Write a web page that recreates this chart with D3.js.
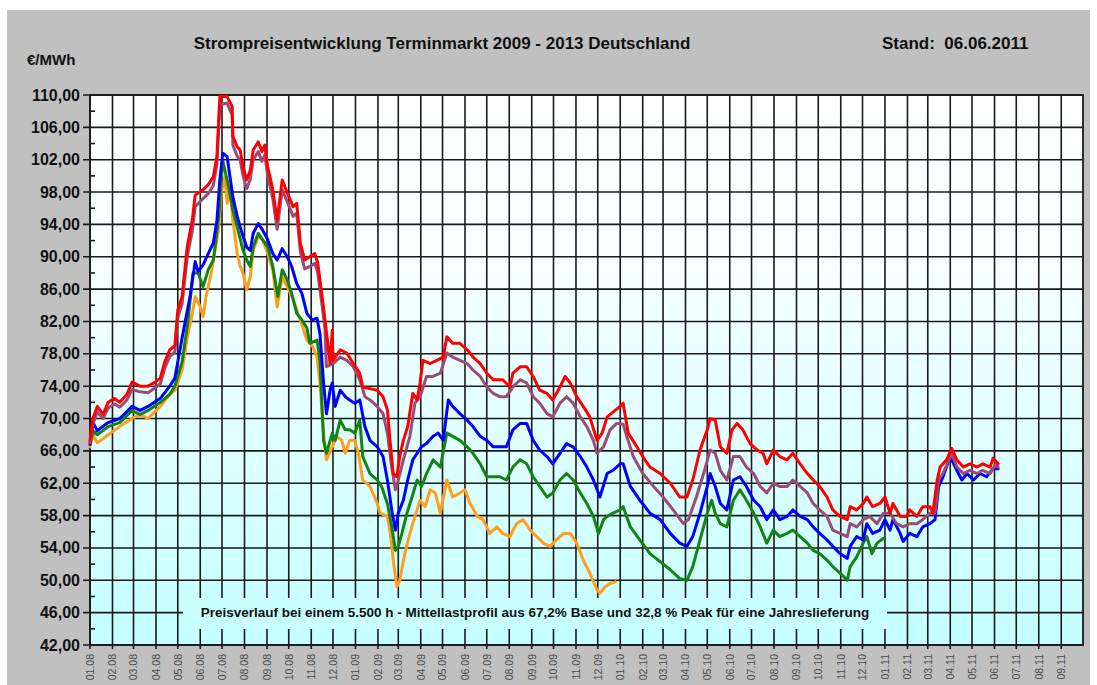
<!DOCTYPE html>
<html>
<head>
<meta charset="utf-8">
<script src="https://cdn.jsdelivr.net/npm/d3@7"></script>
<style>
  html, body { margin: 0; padding: 0; background: #fff; }
  svg { display: block; font-family: "Liberation Sans", Arial, sans-serif; }
</style>
</head>
<body>
<svg id="chart" width="1097" height="685"></svg>
<script>
// price curves (EUR/MWh), [date, value]
const orangeSeries = [
  ["2008-01-01",66.5],["2008-01-05",68.0],["2008-01-11",67.0],["2008-01-19",67.5],["2008-01-26",68.0],["2008-02-11",69.0],["2008-02-28",70.0],["2008-03-10",70.5],["2008-03-21",70.0],["2008-04-07",71.5],["2008-04-20",73.0],["2008-04-27",73.5],["2008-05-07",76.0],["2008-05-14",80.0],["2008-05-21",83.0],["2008-05-25",85.1],["2008-06-01",83.8],["2008-06-05",82.6],["2008-06-09",85.1],["2008-06-17",88.4],["2008-06-26",93.3],["2008-06-30",97.9],["2008-07-05",99.9],["2008-07-08",96.6],["2008-07-12",98.3],["2008-07-16",94.5],["2008-07-22",90.4],["2008-07-26",88.8],["2008-07-30",88.0],["2008-08-04",85.9],["2008-08-09",87.5],["2008-08-13",90.8],["2008-08-20",92.5],["2008-08-26",92.1],["2008-09-02",90.4],["2008-09-09",88.4],["2008-09-15",83.8],["2008-09-22",87.5],["2008-09-29",86.3],["2008-10-07",84.7],["2008-10-17",82.2],["2008-10-26",79.7],["2008-11-03",78.9],["2008-11-09",77.6],["2008-11-13",74.4],["2008-11-18",68.2],["2008-11-22",64.9],["2008-11-30",66.5],["2008-12-06",67.8],["2008-12-13",67.3],["2008-12-18",65.7],["2008-12-24",67.3],["2008-12-31",67.3],["2009-01-05",65.7],["2009-01-11",62.4],["2009-01-21",61.6],["2009-01-31",59.5],["2009-02-04",58.3],["2009-02-14",57.9],["2009-02-18",55.8],["2009-02-22",52.5],["2009-02-27",49.2],["2009-03-03",50.0],["2009-03-10",53.3],["2009-03-17",55.8],["2009-03-24",57.9],["2009-03-31",59.9],["2009-04-07",59.1],["2009-04-14",61.2],["2009-04-21",60.8],["2009-04-28",58.3],["2009-05-07",62.4],["2009-05-15",60.3],["2009-05-25",60.8],["2009-06-01",61.2],["2009-06-08",59.5],["2009-06-18",57.9],["2009-06-26",57.5],["2009-07-05",55.8],["2009-07-15",56.6],["2009-07-23",55.8],["2009-08-02",55.4],["2009-08-11",57.0],["2009-08-20",57.5],["2009-08-30",56.2],["2009-09-08",55.4],["2009-09-17",54.6],["2009-09-26",54.2],["2009-10-05",55.0],["2009-10-15",55.8],["2009-10-24",55.8],["2009-11-02",54.6],["2009-11-11",52.5],["2009-11-20",50.9],["2009-11-30",48.8],["2009-12-04",48.4],["2009-12-11",49.2],["2009-12-18",49.6],["2009-12-25",49.8]
];

const greenSeries = [
  ["2008-01-01",66.8],["2008-01-05",68.5],["2008-01-11",68.0],["2008-01-26",69.0],["2008-02-11",69.5],["2008-02-28",71.0],["2008-03-10",70.5],["2008-03-21",71.0],["2008-04-07",72.0],["2008-04-20",73.0],["2008-04-27",74.0],["2008-05-07",77.0],["2008-05-15",82.0],["2008-05-22",88.0],["2008-05-29",88.0],["2008-06-05",86.3],["2008-06-12",88.4],["2008-06-19",89.6],["2008-06-26",94.5],["2008-07-02",101.9],["2008-07-09",99.1],["2008-07-16",95.8],["2008-07-23",93.3],["2008-07-30",90.8],["2008-08-04",89.6],["2008-08-09",88.8],["2008-08-13",91.2],["2008-08-20",92.9],["2008-08-26",92.1],["2008-09-02",91.2],["2008-09-09",88.8],["2008-09-16",85.1],["2008-09-22",88.4],["2008-09-29",87.1],["2008-10-05",85.5],["2008-10-12",83.0],["2008-10-19",82.2],["2008-10-26",81.2],["2008-10-30",79.3],["2008-11-09",79.7],["2008-11-13",77.2],["2008-11-18",67.3],["2008-11-22",65.7],["2008-11-30",68.2],["2008-12-04",67.3],["2008-12-11",69.8],["2008-12-18",68.6],["2008-12-24",68.6],["2008-12-31",68.2],["2009-01-07",69.8],["2009-01-11",65.3],["2009-01-21",63.2],["2009-01-31",62.4],["2009-02-06",61.6],["2009-02-14",59.5],["2009-02-20",56.6],["2009-02-25",53.7],["2009-03-01",54.2],["2009-03-06",55.8],["2009-03-13",58.3],["2009-03-20",60.3],["2009-03-27",62.4],["2009-04-02",61.6],["2009-04-09",63.2],["2009-04-18",64.9],["2009-04-28",64.0],["2009-05-07",68.2],["2009-05-15",67.8],["2009-05-25",67.3],["2009-06-04",66.5],["2009-06-12",65.7],["2009-06-22",64.4],["2009-07-01",62.8],["2009-07-10",62.8],["2009-07-19",62.8],["2009-07-28",62.4],["2009-08-06",64.0],["2009-08-16",64.9],["2009-08-25",64.4],["2009-09-03",62.8],["2009-09-12",61.6],["2009-09-22",60.3],["2009-09-30",60.8],["2009-10-10",62.4],["2009-10-19",63.2],["2009-10-28",62.4],["2009-11-07",60.8],["2009-11-16",59.5],["2009-11-25",57.9],["2009-12-02",55.8],["2009-12-09",57.5],["2009-12-14",57.9],["2009-12-22",58.3],["2010-01-01",58.7],["2010-01-05",59.1],["2010-01-15",56.6],["2010-01-28",55.0],["2010-02-11",53.3],["2010-02-25",52.3],["2010-03-11",51.3],["2010-03-24",50.2],["2010-04-03",50.0],["2010-04-11",51.7],["2010-04-21",55.0],["2010-05-01",58.3],["2010-05-07",59.9],["2010-05-12",58.3],["2010-05-19",57.0],["2010-05-28",56.6],["2010-06-06",59.9],["2010-06-15",61.2],["2010-06-24",59.9],["2010-07-04",58.3],["2010-07-13",56.6],["2010-07-22",54.6],["2010-07-31",56.2],["2010-08-09",55.4],["2010-08-19",55.8],["2010-08-27",56.2],["2010-09-06",55.4],["2010-09-16",54.6],["2010-09-24",53.7],["2010-10-03",53.3],["2010-10-13",52.5],["2010-10-21",51.7],["2010-10-31",50.9],["2010-11-10",50.0],["2010-11-14",51.7],["2010-11-23",52.9],["2010-12-02",54.6],["2010-12-07",55.4],["2010-12-14",53.3],["2010-12-21",54.6],["2010-12-30",55.2]
];

const blueSeries = [
  ["2008-01-01",66.8],["2008-01-05",69.5],["2008-01-11",68.5],["2008-01-26",69.5],["2008-02-11",70.0],["2008-02-28",71.5],["2008-03-10",71.0],["2008-03-21",71.5],["2008-04-07",72.5],["2008-04-20",74.0],["2008-04-27",75.0],["2008-05-01",77.0],["2008-05-07",80.0],["2008-05-18",85.1],["2008-05-25",89.4],["2008-05-29",88.2],["2008-06-05",89.0],["2008-06-12",90.4],["2008-06-19",91.7],["2008-06-24",94.5],["2008-06-28",99.5],["2008-07-02",102.8],["2008-07-08",102.4],["2008-07-12",99.9],["2008-07-16",97.4],["2008-07-22",95.0],["2008-07-26",93.7],["2008-07-30",92.5],["2008-08-04",91.2],["2008-08-09",90.8],["2008-08-13",92.9],["2008-08-20",94.1],["2008-08-26",93.3],["2008-09-02",92.1],["2008-09-09",90.4],["2008-09-15",89.6],["2008-09-22",91.0],["2008-09-29",90.0],["2008-10-05",88.8],["2008-10-12",86.7],["2008-10-19",85.5],["2008-10-26",83.0],["2008-11-02",82.2],["2008-11-09",82.4],["2008-11-13",80.5],["2008-11-18",74.4],["2008-11-22",70.6],["2008-11-27",73.5],["2008-11-30",74.4],["2008-12-04",71.5],["2008-12-11",73.5],["2008-12-18",72.7],["2008-12-24",72.3],["2008-12-31",71.9],["2009-01-07",72.3],["2009-01-14",69.0],["2009-01-21",67.3],["2009-01-31",66.5],["2009-02-08",65.3],["2009-02-14",62.4],["2009-02-20",58.7],["2009-02-25",56.2],["2009-03-01",58.3],["2009-03-08",59.9],["2009-03-14",62.4],["2009-03-21",64.9],["2009-03-27",65.7],["2009-04-02",66.5],["2009-04-09",66.9],["2009-04-18",67.8],["2009-04-25",68.2],["2009-05-02",67.3],["2009-05-09",72.3],["2009-05-15",71.5],["2009-05-25",70.6],["2009-06-04",69.8],["2009-06-12",69.0],["2009-06-22",67.8],["2009-07-01",67.3],["2009-07-10",66.5],["2009-07-19",66.5],["2009-07-28",66.5],["2009-08-06",68.6],["2009-08-16",69.4],["2009-08-25",69.4],["2009-09-03",67.3],["2009-09-12",66.1],["2009-09-22",65.3],["2009-09-30",64.4],["2009-10-10",65.7],["2009-10-19",66.9],["2009-10-28",66.5],["2009-11-07",65.3],["2009-11-16",64.0],["2009-11-25",62.4],["2009-12-04",60.3],["2009-12-14",63.2],["2009-12-22",63.6],["2010-01-01",64.4],["2010-01-05",64.4],["2010-01-15",61.6],["2010-01-28",59.9],["2010-02-11",58.3],["2010-02-25",57.5],["2010-03-11",55.8],["2010-03-24",54.6],["2010-04-03",54.2],["2010-04-11",55.4],["2010-04-21",58.3],["2010-05-01",61.6],["2010-05-05",63.2],["2010-05-12",61.6],["2010-05-19",59.5],["2010-05-28",58.7],["2010-06-06",62.4],["2010-06-15",62.8],["2010-06-24",61.6],["2010-07-04",59.9],["2010-07-13",59.1],["2010-07-22",57.5],["2010-07-31",58.7],["2010-08-09",57.5],["2010-08-19",57.9],["2010-08-27",58.7],["2010-09-06",57.9],["2010-09-16",57.5],["2010-09-24",56.6],["2010-10-03",55.8],["2010-10-13",55.0],["2010-10-21",54.2],["2010-10-31",53.3],["2010-11-10",52.7],["2010-11-14",54.2],["2010-11-23",55.4],["2010-12-02",55.0],["2010-12-07",57.0],["2010-12-15",55.8],["2010-12-25",56.2],["2011-01-01",57.5],["2011-01-08",56.2],["2011-01-12",57.5],["2011-01-22",55.8],["2011-01-26",54.8],["2011-02-04",55.8],["2011-02-14",55.4],["2011-02-22",56.6],["2011-03-04",57.0],["2011-03-11",57.5],["2011-03-16",61.6],["2011-03-22",62.8],["2011-04-01",65.3],["2011-04-10",63.6],["2011-04-17",62.4],["2011-04-24",63.2],["2011-05-03",62.4],["2011-05-12",63.2],["2011-05-21",62.8],["2011-05-30",63.8],["2011-06-06",63.8]
];

const purpleSeries = [
  ["2008-01-01",67.0],["2008-01-05",69.3],["2008-01-11",70.8],["2008-01-19",70.0],["2008-01-26",71.3],["2008-02-04",71.8],["2008-02-11",71.4],["2008-02-21",72.3],["2008-02-28",73.6],["2008-03-10",73.3],["2008-03-21",73.2],["2008-03-31",73.8],["2008-04-07",74.3],["2008-04-13",76.2],["2008-04-20",77.7],["2008-04-27",78.2],["2008-05-01",82.5],["2008-05-07",84.2],["2008-05-14",90.0],["2008-05-21",93.2],["2008-05-25",96.2],["2008-06-05",97.2],["2008-06-12",97.8],["2008-06-19",98.8],["2008-06-24",101.5],["2008-06-28",108.8],["2008-07-08",109.0],["2008-07-15",107.5],["2008-07-16",103.8],["2008-07-22",102.4],["2008-07-26",102.0],["2008-07-30",100.0],["2008-08-04",98.4],["2008-08-09",99.6],["2008-08-13",102.0],["2008-08-20",103.0],["2008-08-25",101.8],["2008-08-29",102.6],["2008-09-02",100.0],["2008-09-09",97.2],["2008-09-15",93.4],["2008-09-22",98.3],["2008-09-29",96.8],["2008-10-07",95.0],["2008-10-12",95.4],["2008-10-17",90.6],["2008-10-23",88.5],["2008-10-30",88.8],["2008-11-06",89.2],["2008-11-10",88.0],["2008-11-16",84.0],["2008-11-20",81.0],["2008-11-22",76.4],["2008-12-01",76.8],["2008-12-11",77.6],["2008-12-20",77.2],["2008-12-29",76.4],["2009-01-07",74.8],["2009-01-14",72.7],["2009-01-21",72.3],["2009-01-31",71.5],["2009-02-08",70.6],["2009-02-14",68.2],["2009-02-20",64.0],["2009-02-25",61.2],["2009-03-01",62.4],["2009-03-08",64.9],["2009-03-17",67.8],["2009-03-24",71.9],["2009-03-31",72.7],["2009-04-09",75.2],["2009-04-18",75.2],["2009-04-28",75.6],["2009-05-07",78.1],["2009-05-15",77.6],["2009-05-25",77.2],["2009-06-04",76.8],["2009-06-12",76.0],["2009-06-22",75.2],["2009-07-01",73.9],["2009-07-10",73.1],["2009-07-19",72.7],["2009-07-28",72.7],["2009-08-06",73.9],["2009-08-16",74.8],["2009-08-25",74.4],["2009-09-03",72.7],["2009-09-12",71.9],["2009-09-22",70.6],["2009-09-30",70.2],["2009-10-10",71.9],["2009-10-19",72.7],["2009-10-28",71.9],["2009-11-07",70.2],["2009-11-16",69.0],["2009-11-25",67.3],["2009-11-30",65.7],["2009-12-09",66.5],["2009-12-18",68.6],["2009-12-27",69.4],["2010-01-05",69.3],["2010-01-10",67.8],["2010-01-19",65.3],["2010-02-01",63.2],["2010-02-16",61.6],["2010-03-01",60.3],["2010-03-15",58.7],["2010-03-29",57.0],["2010-04-05",57.5],["2010-04-16",60.3],["2010-04-26",63.2],["2010-05-05",66.1],["2010-05-12",65.7],["2010-05-19",63.6],["2010-05-28",62.4],["2010-06-06",65.3],["2010-06-15",65.3],["2010-06-24",64.0],["2010-07-04",63.2],["2010-07-13",61.6],["2010-07-22",60.8],["2010-07-31",62.0],["2010-08-09",61.6],["2010-08-19",61.6],["2010-08-27",62.4],["2010-09-06",61.6],["2010-09-16",60.8],["2010-09-24",59.5],["2010-10-03",58.7],["2010-10-13",57.9],["2010-10-21",56.2],["2010-10-31",55.8],["2010-11-10",55.4],["2010-11-14",57.0],["2010-11-23",56.6],["2010-12-02",57.5],["2010-12-11",57.9],["2010-12-21",57.0],["2010-12-30",58.3],["2011-01-08",58.3],["2011-01-17",57.0],["2011-01-26",56.6],["2011-02-04",57.0],["2011-02-14",57.0],["2011-02-22",57.5],["2011-03-04",58.3],["2011-03-11",58.3],["2011-03-16",62.4],["2011-03-22",63.2],["2011-04-03",65.7],["2011-04-10",64.0],["2011-04-19",63.2],["2011-04-28",63.6],["2011-05-08",63.2],["2011-05-16",63.6],["2011-05-26",63.2],["2011-06-02",64.3],["2011-06-06",64.0]
];

const redSeries = [
  ["2008-01-01",67.3],["2008-01-05",70.0],["2008-01-11",71.5],["2008-01-19",70.5],["2008-01-26",72.0],["2008-02-04",72.5],["2008-02-11",72.0],["2008-02-21",73.0],["2008-02-28",74.5],["2008-03-10",74.0],["2008-03-21",74.0],["2008-03-31",74.5],["2008-04-07",75.0],["2008-04-13",77.0],["2008-04-20",78.5],["2008-04-27",79.0],["2008-05-01",83.4],["2008-05-07",85.1],["2008-05-14",91.2],["2008-05-21",94.5],["2008-05-25",97.6],["2008-06-05",98.3],["2008-06-12",98.9],["2008-06-19",99.9],["2008-06-24",102.4],["2008-06-28",109.8],["2008-07-08",109.8],["2008-07-15",108.6],["2008-07-16",104.9],["2008-07-22",103.6],["2008-07-26",103.2],["2008-07-30",101.1],["2008-08-04",99.5],["2008-08-09",100.7],["2008-08-13",103.2],["2008-08-20",104.2],["2008-08-25",103.0],["2008-08-29",103.8],["2008-09-02",101.1],["2008-09-09",98.3],["2008-09-15",94.5],["2008-09-22",99.5],["2008-09-29",97.9],["2008-10-07",96.2],["2008-10-12",96.6],["2008-10-17",91.7],["2008-10-23",89.6],["2008-10-30",90.0],["2008-11-06",90.4],["2008-11-10",89.2],["2008-11-16",85.1],["2008-11-20",82.2],["2008-11-27",76.8],["2008-11-30",80.9],["2008-12-01",77.2],["2008-12-11",78.5],["2008-12-20",78.1],["2008-12-29",76.8],["2009-01-07",75.6],["2009-01-11",73.9],["2009-01-21",73.7],["2009-01-31",73.5],["2009-02-08",72.7],["2009-02-14",71.1],["2009-02-18",66.9],["2009-02-22",63.2],["2009-02-27",62.8],["2009-03-03",65.3],["2009-03-08",67.3],["2009-03-14",69.0],["2009-03-21",73.1],["2009-03-27",72.3],["2009-03-31",74.4],["2009-04-04",77.2],["2009-04-14",76.8],["2009-04-23",77.2],["2009-05-02",77.6],["2009-05-07",80.1],["2009-05-15",79.3],["2009-05-25",79.3],["2009-06-04",78.5],["2009-06-12",77.6],["2009-06-22",76.8],["2009-07-01",75.6],["2009-07-10",74.8],["2009-07-23",74.8],["2009-08-02",73.9],["2009-08-06",75.6],["2009-08-16",76.4],["2009-08-25",76.4],["2009-09-03",75.2],["2009-09-12",73.5],["2009-09-22",73.1],["2009-09-30",72.3],["2009-10-10",73.9],["2009-10-17",75.2],["2009-10-24",74.4],["2009-11-02",72.7],["2009-11-11",71.5],["2009-11-20",70.2],["2009-11-30",67.3],["2009-12-07",68.2],["2009-12-14",70.2],["2009-12-22",70.8],["2010-01-01",71.5],["2010-01-05",71.9],["2010-01-12",68.2],["2010-01-24",66.5],["2010-02-01",65.3],["2010-02-11",64.0],["2010-02-25",63.2],["2010-03-11",62.0],["2010-03-24",60.3],["2010-04-03",60.3],["2010-04-11",62.4],["2010-04-21",66.1],["2010-05-01",68.6],["2010-05-05",70.0],["2010-05-12",69.8],["2010-05-19",66.5],["2010-05-28",65.7],["2010-06-04",68.6],["2010-06-11",69.4],["2010-06-19",68.6],["2010-06-29",66.9],["2010-07-09",66.1],["2010-07-17",65.7],["2010-07-22",64.4],["2010-07-31",66.1],["2010-08-09",65.3],["2010-08-19",64.9],["2010-08-27",65.7],["2010-09-06",64.4],["2010-09-16",63.2],["2010-09-24",62.4],["2010-10-03",61.6],["2010-10-13",60.3],["2010-10-21",58.7],["2010-10-31",57.9],["2010-11-10",57.5],["2010-11-14",59.1],["2010-11-23",58.7],["2010-12-02",59.5],["2010-12-07",60.3],["2010-12-15",59.1],["2010-12-25",59.5],["2011-01-01",60.3],["2011-01-08",58.3],["2011-01-12",59.5],["2011-01-22",57.9],["2011-01-31",57.9],["2011-02-04",58.7],["2011-02-14",57.9],["2011-02-22",59.1],["2011-03-04",59.1],["2011-03-08",58.3],["2011-03-14",62.4],["2011-03-18",64.0],["2011-03-27",64.9],["2011-04-03",66.3],["2011-04-10",64.9],["2011-04-19",64.0],["2011-04-28",64.4],["2011-05-08",64.0],["2011-05-16",64.4],["2011-05-26",64.0],["2011-05-30",65.1],["2011-06-06",64.4]
];

// drawn bottom first, red on top
const seriesList = [
  { name: "orange", color: "#ff9e1b", data: orangeSeries },
  { name: "green", color: "#138313", data: greenSeries },
  { name: "blue", color: "#0000ff", data: blueSeries },
  { name: "purple", color: "#9a4b78", data: purpleSeries },
  { name: "red", color: "#ff0000", data: redSeries },
];

const yTickValues = [42, 46, 50, 54, 58, 62, 66, 70, 74, 78, 82, 86, 90, 94, 98, 102, 106, 110];
const yMinorValues = [44, 48, 52, 56, 60, 64, 68, 72, 76, 80, 84, 88, 92, 96, 100, 104, 108];
const xDomain = ["2008-01-01", "2011-10-01"];

const titleText = "Strompreisentwicklung Terminmarkt 2009 - 2013 Deutschland";
const standText = "Stand:  06.06.2011";
const unitText = "€/MWh";
const noteText = "Preisverlauf bei einem 5.500 h - Mittellastprofil aus 67,2% Base und 32,8 % Peak für eine Jahreslieferung";

const parse = d3.timeParse("%Y-%m-%d");
const de = d3.formatLocale({ decimal: ",", thousands: ".", grouping: [3], currency: ["", " €"] });
const fmtY = de.format(".2f");
const fmtMonth = d3.timeFormat("%m.%y");

const plot = { left: 90, right: 1083, top: 95, bottom: 645 };

const x = d3.scaleTime().domain(xDomain.map(parse)).range([plot.left, plot.right]);
const y = d3.scaleLinear().domain([42, 110]).range([plot.bottom, plot.top]);

const svg = d3.select("#chart");

// gradient for plot background, white on top fading to light cyan
const grad = svg.append("defs").append("linearGradient")
  .attr("id", "bg").attr("x1", 0).attr("y1", 0).attr("x2", 0).attr("y2", 1);
grad.append("stop").attr("offset", "0%").attr("stop-color", "#ffffff");
grad.append("stop").attr("offset", "30%").attr("stop-color", "#f8ffff");
grad.append("stop").attr("offset", "100%").attr("stop-color", "#c4ffff");

// grey frame
svg.append("rect").attr("x", 7).attr("y", 10).attr("width", 1083).attr("height", 675).attr("fill", "#c0c0c0");

svg.append("rect")
  .attr("x", plot.left).attr("y", plot.top)
  .attr("width", plot.right - plot.left).attr("height", plot.bottom - plot.top)
  .attr("fill", "url(#bg)");

// grid
const months = d3.timeMonth.range(parse("2008-01-01"), parse("2011-10-01"));
const grid = svg.append("g").attr("stroke", "#1a1a1a").attr("stroke-width", 1.6);

grid.selectAll("line.h")
  .data(yTickValues)
  .join("line")
  .attr("class", "h")
  .attr("x1", 83).attr("x2", plot.right)
  .attr("y1", (d) => y(d)).attr("y2", (d) => y(d));

grid.selectAll("line.v")
  .data(months)
  .join("line")
  .attr("class", "v")
  .attr("x1", (d) => x(d)).attr("x2", (d) => x(d))
  .attr("y1", plot.top).attr("y2", plot.bottom + 4);

grid.selectAll("line.minor")
  .data(yMinorValues)
  .join("line")
  .attr("class", "minor")
  .attr("x1", plot.left).attr("x2", plot.left + 5)
  .attr("y1", (d) => y(d)).attr("y2", (d) => y(d));

// outer border
svg.append("rect")
  .attr("x", plot.left).attr("y", plot.top)
  .attr("width", plot.right - plot.left).attr("height", plot.bottom - plot.top)
  .attr("fill", "none").attr("stroke", "#1a1a1a").attr("stroke-width", 1.8);

// note box hides the grid behind the text
svg.append("rect")
  .attr("x", 183).attr("y", 598).attr("width", 704).attr("height", 31)
  .attr("fill", "#c8ffff");
svg.append("text")
  .attr("x", 535).attr("y", 617)
  .attr("text-anchor", "middle")
  .attr("font-size", 13.5).attr("font-weight", "bold").attr("fill", "#111")
  .text(noteText);

// lines
const line = d3.line()
  .x((d) => x(parse(d[0])))
  .y((d) => y(d[1]));

svg.append("g")
  .selectAll("path.series")
  .data(seriesList)
  .join("path")
  .attr("class", "series")
  .attr("d", (d) => line(d.data))
  .attr("fill", "none")
  .attr("stroke", (d) => d.color)
  .attr("stroke-width", 3)
  .attr("stroke-linejoin", "round")
  .attr("stroke-linecap", "round");

// axis labels
svg.append("g")
  .selectAll("text")
  .data(yTickValues)
  .join("text")
  .attr("x", 80)
  .attr("y", (d) => y(d) + 5.5)
  .attr("text-anchor", "end")
  .attr("font-size", 16).attr("font-weight", "bold").attr("fill", "#111")
  .text((d) => fmtY(d));

svg.append("g")
  .selectAll("text")
  .data(months)
  .join("text")
  .attr("transform", (d) => `translate(${x(d) + 3.8},654) rotate(-90)`)
  .attr("text-anchor", "end")
  .attr("font-size", 10.5).attr("fill", "#4a4a4a")
  .text((d) => fmtMonth(d));

// titles
svg.append("text")
  .attr("x", 442).attr("y", 49).attr("text-anchor", "middle")
  .attr("font-size", 17).attr("font-weight", "bold").attr("fill", "#111")
  .text(titleText);
svg.append("text")
  .attr("x", 882).attr("y", 49)
  .attr("font-size", 17).attr("font-weight", "bold").attr("fill", "#111")
  .attr("xml:space", "preserve").style("white-space", "pre")
  .text(standText);
svg.append("text")
  .attr("x", 27).attr("y", 65)
  .attr("font-size", 15).attr("font-weight", "bold").attr("fill", "#111")
  .text(unitText);
</script>
</body>
</html>
